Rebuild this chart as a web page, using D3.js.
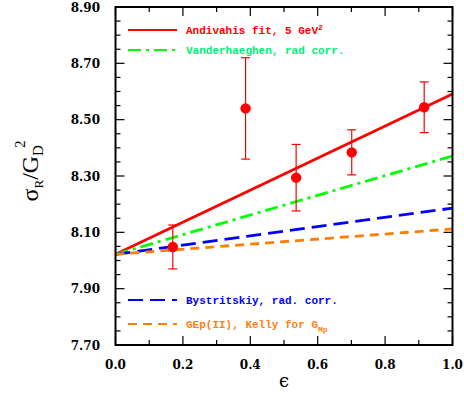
<!DOCTYPE html>
<html>
<head>
<meta charset="utf-8">
<script src="https://cdn.jsdelivr.net/npm/d3@7"></script>
<style>
  body { margin: 0; background: #fff; }
  svg { display: block; }
</style>
</head>
<body>
<svg id="chart" width="464" height="394"></svg>
<script>
// data
const epsLine = [0, 1];
const andivahis = [8.022, 8.591];
const vanderhaeghen = [8.022, 8.371];
const bystritskiy = [8.022, 8.186];
const gep2 = [8.022, 8.112];

const pointEps = [0.17, 0.386, 0.536, 0.701, 0.916];
const pointVal = [8.048, 8.540, 8.294, 8.384, 8.544];
const pointErr = [0.078, 0.180, 0.118, 0.080, 0.090];

const xTicks = [0.0, 0.2, 0.4, 0.6, 0.8, 1.0];
const yTicks = [7.70, 7.90, 8.10, 8.30, 8.50, 8.70, 8.90];

const svg = d3.select("#chart");
const pLeft = 115.5, pRight = 452.5, pTop = 7, pBottom = 345;

const x = d3.scaleLinear().domain([0, 1]).range([pLeft, pRight]);
const y = d3.scaleLinear().domain([7.70, 8.90]).range([pBottom, pTop]);

const series = [
  { vals: andivahis, color: "#ff0000", dash: null, text: "Andivahis fit, 5 GeV", sup: "2", textColor: "#ff0000", ly: 30 },
  { vals: vanderhaeghen, color: "#00ff00", dash: "13,5,3,5", text: "Vanderhaeghen, rad corr.", textColor: "#00ee77", ly: 50 },
  { vals: bystritskiy, color: "#0000ff", dash: "15,7", text: "Bystritskiy, rad. corr.", textColor: "#0000ff", ly: 300 },
  { vals: gep2, color: "#ff7f00", dash: "9,6", text: "GEp(II), Kelly for G", sub: "Mp", textColor: "#ff8010", ly: 324 }
];

const line = d3.line().x((d, i) => x(epsLine[i])).y(d => y(d));

// lines
series.forEach(s => {
  svg.append("path")
    .attr("d", line(s.vals))
    .attr("fill", "none")
    .attr("stroke", s.color)
    .attr("stroke-width", 2.8)
    .attr("stroke-dasharray", s.dash);
});

// error bars + points
pointEps.forEach((e, i) => {
  const cx = x(e);
  const g = svg.append("g").attr("stroke", "#ff0000").attr("stroke-width", 1.2);
  g.append("line").attr("x1", cx).attr("x2", cx)
    .attr("y1", y(pointVal[i] - pointErr[i])).attr("y2", y(pointVal[i] + pointErr[i]));
  [pointVal[i] - pointErr[i], pointVal[i] + pointErr[i]].forEach(v => {
    g.append("line").attr("x1", cx - 4.5).attr("x2", cx + 4.5)
      .attr("y1", y(v)).attr("y2", y(v));
  });
  svg.append("circle").attr("cx", cx).attr("cy", y(pointVal[i])).attr("r", 5.2)
    .attr("fill", "#ff0000");
});

// axes ticks (all four sides)
const xMinor = d3.range(0, 10.5, 1).map(d => d / 10);
const yMinor = d3.range(0, 24.5, 1).map(d => 7.70 + d * 0.05);
const tg = svg.append("g").attr("stroke", "#000").attr("stroke-width", 1.2);
xMinor.forEach(v => {
  const major = Math.round(v * 10) % 2 === 0;
  const len = major ? 9 : 5;
  tg.append("line").attr("x1", x(v)).attr("x2", x(v)).attr("y1", pBottom).attr("y2", pBottom - len);
  tg.append("line").attr("x1", x(v)).attr("x2", x(v)).attr("y1", pTop).attr("y2", pTop + len);
});
yMinor.forEach(v => {
  const major = Math.round((v - 7.70) * 20) % 4 === 0;
  const len = major ? 9 : 5;
  tg.append("line").attr("x1", pLeft).attr("x2", pLeft + len).attr("y1", y(v)).attr("y2", y(v));
  tg.append("line").attr("x1", pRight).attr("x2", pRight - len).attr("y1", y(v)).attr("y2", y(v));
});

svg.append("rect")
  .attr("x", pLeft).attr("y", pTop)
  .attr("width", pRight - pLeft).attr("height", pBottom - pTop)
  .attr("fill", "none").attr("stroke", "#000").attr("stroke-width", 2);

// tick labels
const tickFont = "'DejaVu Serif', serif";
svg.selectAll(".xl").data(xTicks).enter().append("text")
  .attr("x", d => x(d)).attr("y", 369)
  .attr("text-anchor", "middle")
  .style("font-family", tickFont).style("font-weight", "bold").style("font-size", "12px")
  .text(d => d.toFixed(1));
svg.selectAll(".yl").data(yTicks).enter().append("text")
  .attr("x", 100).attr("y", d => y(d) + 4.5)
  .attr("text-anchor", "end")
  .style("font-family", tickFont).style("font-weight", "bold").style("font-size", "12px")
  .text(d => d.toFixed(2));

// axis titles
svg.append("text")
  .attr("x", x(0.5)).attr("y", 387)
  .attr("text-anchor", "middle")
  .style("font-family", "'DejaVu Serif', serif").style("font-size", "18px")
  .text("\u03f5");

const yt = svg.append("text")
  .attr("transform", "translate(38,171) rotate(-90)")
  .attr("text-anchor", "middle")
  .style("font-family", "'Liberation Serif', serif").style("font-size", "24px");
yt.append("tspan").text("\u03c3");
yt.append("tspan").attr("dy", 5).style("font-size", "13px").text("R");
yt.append("tspan").attr("dy", -5).text("/G");
yt.append("tspan").attr("dy", 5).style("font-size", "15px").text("D");
yt.append("tspan").attr("dx", -3).attr("dy", -18).style("font-size", "15px").text("2");

// legend
series.forEach(s => {
  svg.append("line")
    .attr("x1", 128).attr("x2", 177).attr("y1", s.ly).attr("y2", s.ly)
    .attr("stroke", s.color).attr("stroke-width", 2)
    .attr("stroke-dasharray", s.dash);
  const t = svg.append("text")
    .attr("x", 186).attr("y", s.ly + 4)
    .style("font-family", "'Liberation Mono', monospace")
    .style("font-weight", "bold").style("font-size", "11px")
    .attr("fill", s.textColor)
    .text(s.text);
  if (s.sup) t.append("tspan").attr("dy", -4).style("font-size", "8px").text(s.sup);
  if (s.sub) t.append("tspan").attr("dy", 4).style("font-size", "8px").text(s.sub);
});
</script>
</body>
</html>
